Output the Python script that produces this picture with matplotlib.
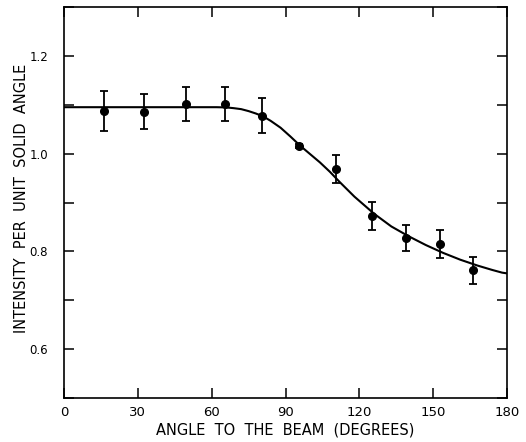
import matplotlib
matplotlib.use("Agg")
import matplotlib.pyplot as plt
from matplotlib.ticker import MultipleLocator, FixedLocator

# Measured data points
angle = [16.4, 32.6, 49.4, 65.4, 80.6, 95.6, 110.7, 125.2, 139.1, 152.8, 166.1]
intensity = [1.088, 1.086, 1.101, 1.102, 1.078, 1.015, 0.969, 0.872, 0.827, 0.815, 0.761]
err = [0.041, 0.035, 0.035, 0.035, 0.036, 0.004, 0.029, 0.029, 0.027, 0.028, 0.027]

# Fitted curve
curve_x = [0, 20, 40, 55, 62, 66, 69, 72, 75, 78, 81, 84, 88, 92, 96, 100, 104, 108, 112,
           118, 126, 133, 140, 147, 154, 161, 168, 174, 178, 180]
curve_y = [1.095, 1.095, 1.095, 1.095, 1.095, 1.0945, 1.093, 1.091, 1.087, 1.082, 1.076,
           1.067, 1.053, 1.035, 1.016, 0.999, 0.982, 0.963, 0.942, 0.912, 0.877, 0.851,
           0.831, 0.813, 0.797, 0.783, 0.771, 0.762, 0.7565, 0.755]

x_ticks = [0, 30, 60, 90, 120, 150, 180]
y_ticks = [0.6, 0.8, 1.0, 1.2]

fig = plt.figure(figsize=(5.26, 4.42), dpi=100)
ax = fig.add_axes([64/526, 1-398/442, (507-64)/526, (398-7)/442])

ax.plot(curve_x, curve_y, color="black", lw=1.5, solid_capstyle="butt",
        solid_joinstyle="round", zorder=2)
ax.errorbar(angle, intensity, yerr=err, fmt="o", color="black", ms=5.5,
            elinewidth=1.3, capsize=3, capthick=1.3, zorder=3)

ax.set_xlim(0, 180)
ax.set_ylim(0.5, 1.3)
ax.xaxis.set_major_locator(FixedLocator(x_ticks))
ax.yaxis.set_major_locator(FixedLocator(y_ticks))
ax.yaxis.set_minor_locator(MultipleLocator(0.1))
ax.set_xticklabels([str(v) for v in x_ticks], fontsize=9.5)
ax.set_yticklabels([f"{v:.1f}" for v in y_ticks], fontsize=8.5)

ax.tick_params(axis="both", which="both", direction="in", length=7, width=1.1,
               top=True, right=True)
ax.tick_params(axis="y", which="major", pad=11.5)
ax.tick_params(axis="x", which="major", pad=6)
ax.tick_params(axis="x", which="both", top=True, labeltop=False)
ax.tick_params(axis="y", which="both", right=True, labelright=False)
for s in ax.spines.values():
    s.set_linewidth(1.2)

ax.set_xlabel("ANGLE  TO  THE  BEAM  (DEGREES)", fontsize=10.5, labelpad=2)
ax.set_ylabel("INTENSITY  PER  UNIT  SOLID  ANGLE", fontsize=10.5)
ax.yaxis.set_label_coords(-(64 - 29) / 443, 0.51)

fig.savefig("out.png", dpi=100)
